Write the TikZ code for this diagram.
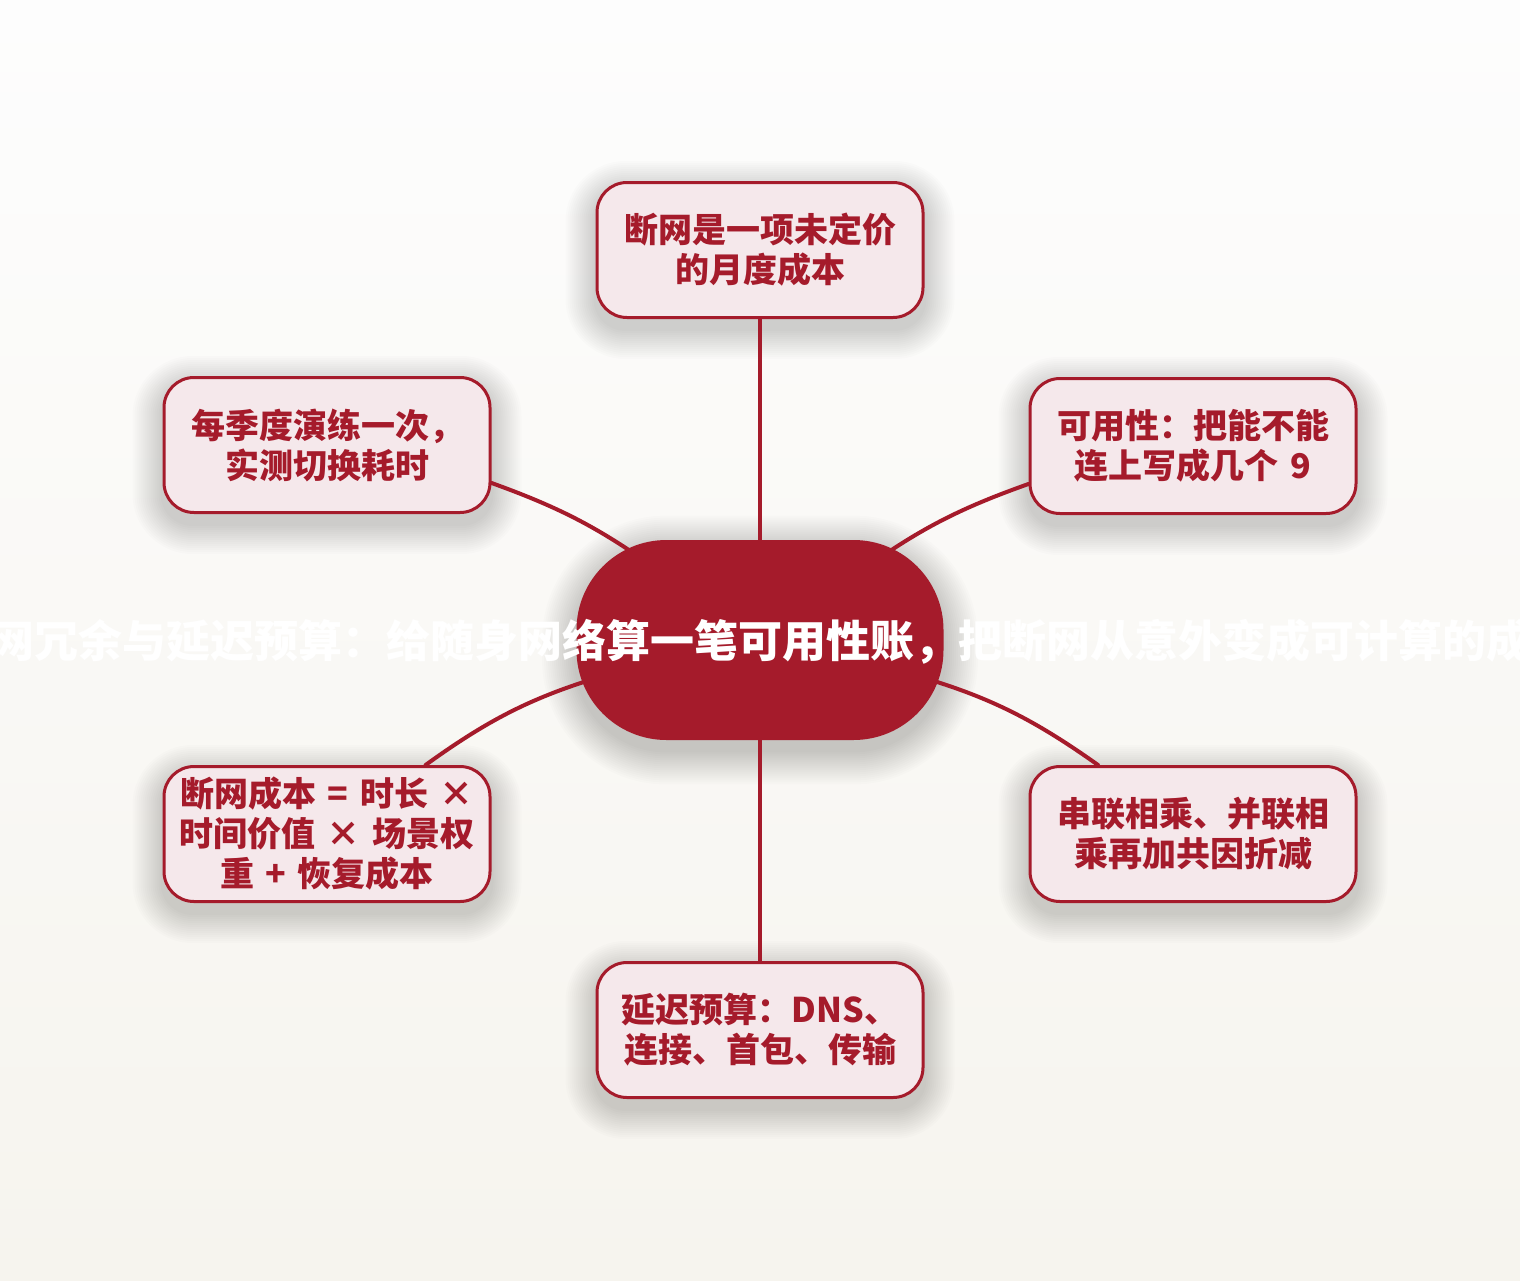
\documentclass[tikz,border=0pt]{standalone}
\usepackage{fontspec}
\newfontfamily\cjk{Noto Sans CJK SC}
\usetikzlibrary{calc}
\definecolor{dred}{HTML}{A51B2B}
\definecolor{pinkfill}{HTML}{F5E8EB}
\definecolor{bgtop}{HTML}{FDFDFD}
\definecolor{bgbot}{HTML}{F6F4EE}
\pgfdeclarelayer{bglayer}
\pgfdeclarelayer{shadowlayer}
\pgfdeclarelayer{edgelayer}
\pgfsetlayers{bglayer,shadowlayer,edgelayer,main}
\newcommand{\mkshadow}[3]{%
  \foreach \e in {2,4,...,#3}{%
    \fill[black, opacity=0.011, rounded corners={#2+\e*0.5pt}]
      ($(#1.north west)+(-\e,-\e+10)$) rectangle ($(#1.south east)+(\e,\e+10)$);
  }}
\begin{document}
\begin{tikzpicture}[x=0.5pt,y=-0.5pt,
  leaf/.style={draw=dred, line width=1.5pt, fill=pinkfill, rounded corners=15pt,
    minimum width=163pt, minimum height=67.5pt, inner sep=0pt, text width=150pt,
    align=center, text=dred, font=\cjk\bfseries\fontsize{17pt}{20pt}\selectfont},
  hub/.style={fill=dred, rounded corners=45pt, minimum width=183.5pt, minimum height=100pt,
    inner sep=0pt},
  hubtext/.style={text=white, font=\cjk\bfseries\fontsize{22pt}{26pt}\selectfont, inner sep=0pt},
  link/.style={draw=dred, line width=2pt, line cap=round}]
\useasboundingbox (0,0) rectangle (1520,1280);
\begin{pgfonlayer}{bglayer}
\shade[top color=bgtop, bottom color=bgbot] (0,0) rectangle (1520,1280);
\end{pgfonlayer}

\node[hub] (c) at (760,640) {};
\node[hubtext] (ct) at (760,642) {网冗余与延迟预算：给随身网络算一笔可用性账，把断网从意外变成可计算的成};

\node[leaf] (top) at (760,250) {断网是一项未定价\\的月度成本};
\node[leaf] (tl) at (327,445) {每季度演练一次，\\实测切换耗时};
\node[leaf] (tr) at (1193,446) {可用性：把能不能\\连上写成几个 9};
\node[leaf] (bl) at (327,834) {断网成本 = 时长 ×\\时间价值 × 场景权\\重 + 恢复成本};
\node[leaf] (br) at (1193,834) {串联相乘、并联相\\乘再加共因折减};
\node[leaf] (bot) at (760,1030) {延迟预算：DNS、\\连接、首包、传输};

\begin{pgfonlayer}{shadowlayer}
\mkshadow{c}{45pt}{34}
\mkshadow{top}{15pt}{30}
\mkshadow{tl}{15pt}{30}
\mkshadow{tr}{15pt}{30}
\mkshadow{bl}{15pt}{30}
\mkshadow{br}{15pt}{30}
\mkshadow{bot}{15pt}{30}
\end{pgfonlayer}

\begin{pgfonlayer}{edgelayer}
\draw[link] (top.south) -- (c.north);
\draw[link] (c.south) -- (bot.north);
\draw[link] (tl.-13.7) to[bend left=8] ($(c)+(-98,-67)$);
\draw[link] (tr.193.7) to[bend right=8] ($(c)+(98,-67)$);
\draw[link] (bl.35.8) to[bend left=10] ($(c)+(-140,31)$);
\draw[link] (br.144.2) to[bend right=10] ($(c)+(140,31)$);
\end{pgfonlayer}
\end{tikzpicture}
\end{document}
